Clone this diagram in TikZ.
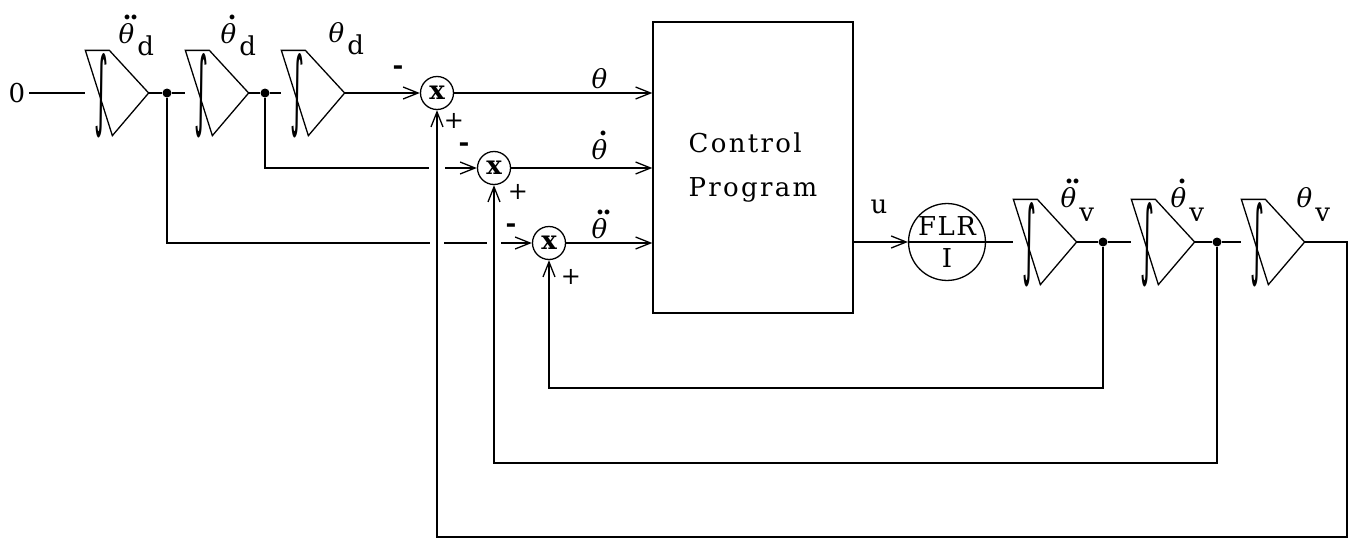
\documentclass[tikz,border=0pt]{standalone}
\usepackage{fontspec}
\setmainfont{DejaVu Serif}
\newfontfamily\intfont{DejaVu Sans}
\usetikzlibrary{arrows.meta,calc}

% theta with dots
\newcommand{\thdot}{\rlap{\hspace{7pt}\raisebox{24pt}{\textbf{.}}}\textit{θ}}
\newcommand{\thddot}{\rlap{\hspace{4pt}\raisebox{24pt}{\textbf{.}\hspace{-2pt}\textbf{.}}}\textit{θ}}

\tikzset{
  integ/.style={minimum width=62pt, minimum height=84pt, inner sep=0pt},
  summer/.style={draw, circle, minimum size=33pt, inner sep=0pt, font=\fontsize{26}{30}\bfseries},
  junc/.style={circle, fill, minimum size=9pt, inner sep=0pt},
  sig/.style={inner sep=0pt, anchor=base west},
  sgn/.style={inner sep=0pt}
}

\begin{document}
\begin{tikzpicture}[x=1pt, y=-1pt, line width=1.3pt,
  font=\fontsize{26}{30}\selectfont,
  >={Straight Barb[length=15pt,width=12pt]}]

\useasboundingbox (0,0) rectangle (1353,541);

% Integrators
\node[integ] (d1) at (117,93) {};
\node[integ] (d2) at (217,93) {};
\node[integ] (d3) at (313,93) {};
\node[integ] (v1) at (1045,242) {};
\node[integ] (v2) at (1163,242) {};
\node[integ] (v3) at (1273,242) {};
\foreach \n in {d1,d2,d3,v1,v2,v3} {
  \draw (\n.north west) -- ([xshift=24pt]\n.north west) -- (\n.east)
    -- ([xshift=27pt]\n.south west) -- cycle;
  \node[inner sep=0pt] (\n-int) at ([xshift=16pt,yshift=-3pt]\n.west)
    {\resizebox{14pt}{66pt}{\intfont ∫}};
}

% Junctions
\node[junc] (jd1) at (167,93) {};
\node[junc] (jd2) at (265,93) {};
\node[junc] (jv1) at (1103,242) {};
\node[junc] (jv2) at (1217,242) {};

% Summers
\node[summer] (s1) at (437,93) {x};
\node[summer] (s2) at (494,168) {x};
\node[summer] (s3) at (549,243) {x};

% Control program
\node[draw, minimum width=200pt, minimum height=291pt, align=left,
  font=\fontsize{26}{44}\selectfont\addfontfeature{LetterSpace=9}] (prog) at (753,167.5) {Control\\Program};

% Gain
\node[draw, circle, minimum size=74pt, inner sep=0pt, align=center,
  font=\fontsize{26}{32}\selectfont\addfontfeature{LetterSpace=6}] (flr) at (947,242) {FLR\\I};
\draw (flr.west) -- (flr.east);

% Input
\node (zero) at (17,93) {0};

% Desired path
\draw (zero) -- (d1.west);
\draw (d1.east) -- (jd1) -- (d2.west);
\draw (d2.east) -- (jd2) -- (d3.west);
\draw[->] (d3.east) -- (s1);
\draw[->] (jd2) |- (s2);
\draw[->] (jd1) |- (s3);

% Errors into the program
\draw[->] (s1) -- (s1 -| prog.west);
\draw[->] (s2) -- (s2 -| prog.west);
\draw[->] (s3) -- (s3 -| prog.west);

% Vehicle path
\draw[->] (prog.east |- flr) -- (flr);
\draw (flr) -- (v1.west);
\draw (v1.east) -- (jv1) -- (v2.west);
\draw (v2.east) -- (jv2) -- (v3.west);
\coordinate (out) at (1347,242);

% Crossings
\fill[white] ($(s1 |- s2)+(-8,-3)$) rectangle ++(16,6);
\fill[white] ($(s1 |- s3)+(-7,-3)$) rectangle ++(14,6);
\fill[white] ($(s2 |- s3)+(-7,-3)$) rectangle ++(14,6);

% Feedback
\draw[->] (v3.east) -- (out) -- (out |- 0,537) -| (s1);
\draw[->] (jv2) -- (jv2 |- 0,463) -| (s2);
\draw[->] (jv1) -- (jv1 |- 0,388) -| (s3);

% Labels
\node[sig] (ld1) at (118,43) {\thddot\hspace{3pt}\raisebox{-12pt}{d}};
\node[sig] (ld2) at (220,43) {\thdot\hspace{3pt}\raisebox{-12pt}{d}};
\node[sig] (ld3) at (328,42) {\textit{θ}\hspace{3pt}\raisebox{-12pt}{d}};
\node[sig] (lv1) at (1060,207) {\thddot\hspace{3pt}\raisebox{-14pt}{v}};
\node[sig] (lv2) at (1170,207) {\thdot\hspace{3pt}\raisebox{-14pt}{v}};
\node[sig] (lv3) at (1296,207) {\textit{θ}\hspace{3pt}\raisebox{-14pt}{v}};
\node[sig] (lth) at (591,88) {\textit{θ}};
\node[sig] (ldth) at (591,159) {\thdot};
\node[sig] (lddth) at (591,238) {\thddot};
\node[sig] (lu) at (870,213) {u};

% Signs
\node[sgn] (m1) at (398,70) {\textbf{-}};
\node[sgn] (m2) at (464,147) {\textbf{-}};
\node[sgn] (m3) at (511,228) {\textbf{-}};
\node[sgn, font=\fontsize{24}{28}\selectfont] (p1) at (454,121) {+};
\node[sgn, font=\fontsize{24}{28}\selectfont] (p2) at (518,192) {+};
\node[sgn, font=\fontsize{24}{28}\selectfont] (p3) at (571,277) {+};

\end{tikzpicture}
\end{document}
